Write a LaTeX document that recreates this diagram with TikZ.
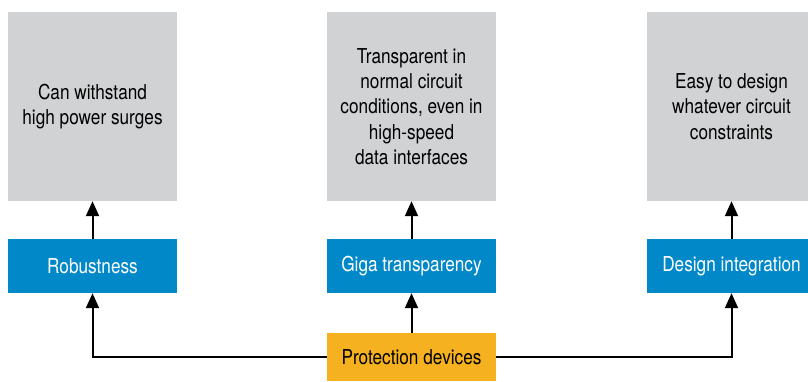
\documentclass[tikz,border=0pt]{standalone}
\usepackage{fontspec}
\setmainfont{TeX Gyre Heros}[FakeStretch=0.84]
\usetikzlibrary{arrows.meta}
\definecolor{boxgray}{HTML}{D1D2D4}
\definecolor{boxblue}{HTML}{0088C8}
\definecolor{boxorange}{HTML}{F5B120}
\tikzset{
  goal/.style={fill=boxgray, minimum width=169pt, minimum height=189pt, align=center, font=\fontsize{20.5}{25.2}\selectfont, inner sep=0pt},
  feature/.style={fill=boxblue, text=white, minimum width=169pt, minimum height=54pt, font=\fontsize{20.5}{24}\selectfont, inner sep=0pt},
  source/.style={fill=boxorange, minimum width=169pt, minimum height=48pt, font=\fontsize{20.5}{24}\selectfont, inner sep=0pt},
  link/.style={black, line width=2pt, -{Triangle[length=15pt,width=13pt]}}
}
\begin{document}
\begin{tikzpicture}[x=1pt,y=-1pt]
     \useasboundingbox (0,0) rectangle (808,381);
     \clip (0,0) rectangle (808,381);
     \node[goal] (g1) at (92.5,106.5) {Can withstand\\high power surges};
     \node[goal] (g2) at (411.5,106.5) {Transparent in\\normal circuit\\conditions, even in\\high-speed\\data interfaces};
     \node[goal] (g3) at (731.5,106.5) {Easy to design\\whatever circuit\\constraints};
     \node[feature] (rob) at (92.5,266) {Robustness};
     \node[feature] (giga) at (411.5,266) {Giga transparency};
     \node[feature] (integ) at (731.5,266) {Design integration};
     \node[source] (prot) at (411.5,357) {Protection devices};
     \draw[link] (rob) -- (g1);
     \draw[link] (giga) -- (g2);
     \draw[link] (integ) -- (g3);
     \draw[link] (prot) -- (giga);
     \draw[link] (prot.west) -| (rob.south);
     \draw[link] (prot.east) -| (integ.south);
\end{tikzpicture}
\end{document}
